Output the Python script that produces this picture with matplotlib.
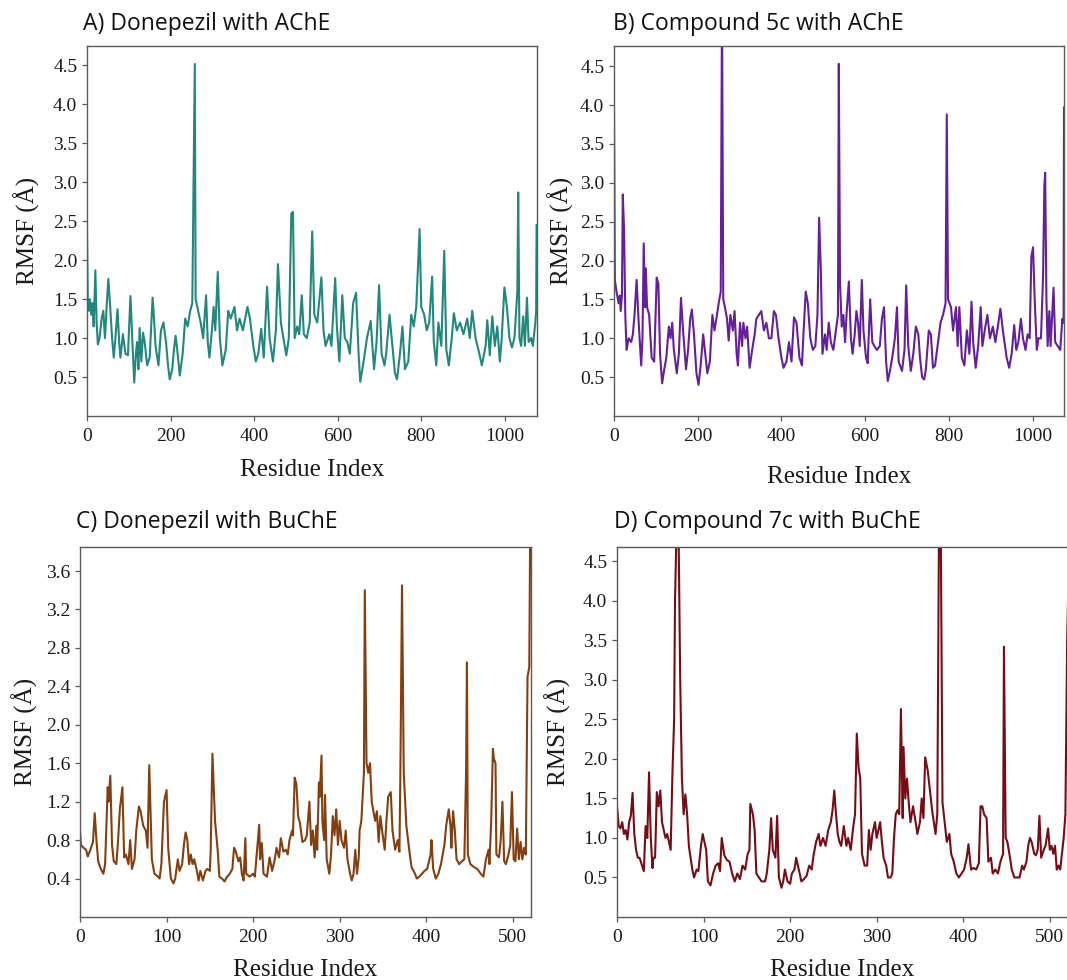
import matplotlib.pyplot as plt

# RMSF traces (residue index, RMSF in Angstrom)
a_res = [0, 2, 4, 7, 10, 13, 16, 20, 23, 26,
         30, 35, 39, 43, 47, 51, 55, 60, 64, 68,
         73, 77, 80, 86, 92, 98, 104, 109, 113, 117,
         120, 123, 126, 130, 134, 138, 144, 150, 157, 161,
         164, 171, 177, 183, 189, 194, 198, 204, 208, 212,
         216, 222, 229, 235, 241, 247, 252, 255, 258, 260,
         266, 272, 278, 285, 289, 293, 299, 303, 307, 313,
         318, 324, 332, 338, 344, 353, 359, 365, 373, 384,
         390, 398, 404, 410, 417, 423, 431, 437, 445, 452,
         457, 464, 470, 477, 483, 489, 493, 497, 503, 508,
         514, 519, 526, 533, 539, 544, 551, 561, 566, 571,
         580, 585, 594, 598, 604, 611, 617, 623, 629, 637,
         644, 650, 654, 662, 670, 679, 687, 693, 699, 705,
         712, 716, 724, 731, 737, 742, 749, 755, 761, 769,
         776, 782, 788, 796, 800, 807, 813, 819, 826, 830,
         836, 841, 848, 855, 860, 866, 873, 878, 885, 893,
         901, 910, 916, 922, 930, 939, 945, 954, 958, 964,
         970, 976, 982, 988, 992, 999, 1005, 1011, 1017, 1023,
         1030, 1032, 1035, 1039, 1044, 1048, 1053, 1057, 1063, 1067,
         1073, 1075, 1076]
a_rmsf = [2.38, 1.45, 1.35, 1.5, 1.3, 1.45, 1.15, 1.87, 1.2, 0.92,
          1.0, 1.25, 1.35, 1.0, 1.4, 1.76, 1.45, 1.0, 0.75, 1.0,
          1.37, 0.95, 0.75, 1.05, 0.8, 0.78, 1.54, 0.9, 0.43, 0.8,
          0.95, 0.6, 1.13, 0.7, 1.07, 0.95, 0.65, 0.75, 1.52, 1.2,
          0.9, 0.65, 1.1, 1.2, 0.95, 0.65, 0.47, 0.6, 0.85, 1.03,
          0.85, 0.52, 0.8, 1.25, 1.15, 1.35, 1.45, 3.0, 4.52, 1.5,
          1.35, 1.2, 1.0, 1.55, 0.95, 0.75, 1.1, 1.4, 1.1, 1.85,
          1.0, 0.65, 0.85, 1.35, 1.25, 1.4, 1.1, 1.25, 1.1, 1.4,
          1.25, 0.9, 0.7, 0.8, 1.12, 0.75, 1.66, 1.0, 0.7, 1.1,
          1.95, 1.2, 1.0, 0.78, 1.0, 2.6, 2.62, 1.0, 1.15, 1.05,
          1.55, 1.05, 1.0, 1.2, 2.37, 1.3, 1.2, 1.78, 1.1, 0.9,
          1.05, 0.9, 1.77, 1.15, 0.7, 1.55, 1.0, 0.95, 0.8, 1.45,
          1.58, 0.8, 0.44, 0.7, 1.0, 1.22, 0.6, 0.95, 1.68, 0.8,
          0.65, 0.8, 1.3, 0.9, 0.55, 0.47, 0.8, 1.15, 0.6, 0.7,
          1.3, 1.15, 1.4, 2.4, 1.4, 1.3, 1.1, 1.2, 1.79, 0.95,
          0.65, 1.2, 0.9, 2.12, 0.85, 0.65, 1.0, 1.32, 1.1, 1.2,
          1.05, 1.25, 1.0, 1.35, 1.0, 0.8, 0.65, 0.9, 1.23, 0.78,
          1.28, 0.9, 1.15, 0.7, 0.95, 1.65, 1.4, 1.0, 0.88, 1.0,
          1.6, 2.87, 1.0, 0.9, 1.28, 0.9, 1.52, 0.95, 1.0, 0.9,
          1.2, 1.35, 2.45]

b_res = [0, 2, 6, 11, 14, 16, 19, 21, 24, 27,
         30, 35, 41, 45, 49, 54, 59, 65, 68, 71,
         74, 76, 79, 84, 90, 96, 102, 106, 110, 115,
         120, 125, 131, 135, 139, 143, 150, 155, 160, 165,
         172, 177, 182, 186, 191, 197, 202, 207, 213, 218,
         223, 229, 235, 240, 246, 250, 255, 258, 261, 265,
         270, 274, 278, 284, 288, 293, 296, 301, 306, 309,
         314, 318, 324, 330, 336, 340, 346, 352, 358, 364,
         370, 376, 382, 387, 393, 400, 405, 412, 418, 424,
         430, 436, 443, 449, 453, 458, 463, 469, 475, 481,
         486, 490, 494, 498, 504, 508, 513, 518, 524, 530,
         535, 537, 540, 544, 548, 552, 556, 561, 566, 570,
         575, 579, 583, 587, 592, 596, 602, 606, 612, 617,
         622, 628, 635, 640, 645, 650, 654, 660, 666, 671,
         676, 680, 688, 694, 698, 703, 709, 715, 721, 727,
         731, 736, 741, 745, 752, 757, 762, 767, 774, 780,
         786, 792, 795, 798, 805, 810, 817, 821, 825, 831,
         837, 843, 849, 854, 858, 864, 870, 876, 880, 887,
         892, 898, 905, 911, 917, 923, 929, 938, 944, 950,
         956, 961, 966, 972, 977, 983, 988, 993, 997, 1001,
         1005, 1010, 1014, 1020, 1025, 1028, 1030, 1033, 1036, 1040,
         1043, 1050, 1054, 1060, 1066, 1071, 1074, 1075]
b_rmsf = [3.95, 1.75, 1.6, 1.45, 1.55, 1.35, 1.55, 2.85, 2.4, 1.3,
          0.85, 1.0, 0.95, 1.05, 1.3, 1.75, 1.2, 0.65, 1.0, 2.22,
          1.4, 1.9, 1.4, 1.3, 0.75, 0.7, 1.78, 1.7, 0.8, 0.42,
          0.6, 0.75, 1.15, 1.0, 1.2, 0.85, 0.55, 0.8, 1.52, 1.1,
          0.6, 0.85, 1.25, 1.37, 1.05, 0.55, 0.4, 0.65, 1.05, 0.8,
          0.55, 0.7, 1.3, 1.1, 1.3, 1.45, 1.6, 5.3, 1.5, 1.4,
          1.25, 0.97, 1.3, 1.1, 1.35, 0.8, 0.65, 1.2, 0.9, 1.2,
          1.0, 1.15, 0.62, 0.85, 1.05, 1.25, 1.3, 1.35, 1.1, 1.2,
          1.0, 1.0, 1.35, 1.3, 1.0, 0.75, 0.62, 0.7, 0.95, 0.7,
          1.27, 1.2, 0.75, 0.65, 1.1, 1.6, 1.45, 1.0, 0.85, 0.9,
          1.3, 2.55, 1.9, 0.8, 1.05, 0.85, 1.2, 0.95, 0.85, 1.1,
          1.3, 4.53, 1.7, 1.15, 1.3, 0.95, 1.35, 1.73, 1.0, 0.8,
          1.05, 1.35, 1.2, 0.9, 1.75, 1.1, 0.75, 0.68, 1.5, 0.95,
          0.9, 0.85, 0.9, 1.25, 1.4, 0.7, 0.45, 0.6, 0.8, 1.0,
          1.4, 0.7, 0.58, 0.85, 1.68, 0.9, 0.58, 0.8, 1.15, 1.05,
          0.75, 0.5, 0.47, 0.6, 1.1, 1.05, 0.62, 0.65, 0.95, 1.2,
          1.3, 1.45, 3.88, 1.5, 1.4, 1.1, 1.4, 0.9, 1.4, 0.75,
          0.65, 1.1, 0.8, 1.47, 0.95, 0.62, 0.9, 1.4, 0.9, 1.15,
          1.3, 1.0, 1.15, 0.95, 1.15, 1.38, 1.1, 0.75, 0.62, 0.8,
          1.17, 0.85, 0.95, 1.25, 1.0, 0.85, 1.05, 1.0, 2.05, 2.17,
          1.5, 0.85, 1.0, 1.0, 1.8, 2.95, 3.13, 1.5, 0.9, 1.35,
          0.9, 1.65, 0.95, 0.9, 0.85, 1.25, 1.2, 3.97]

c_res = [0, 1, 4, 7, 9, 12, 15, 17, 19, 21,
         24, 27, 29, 32, 33, 35, 37, 39, 42, 44,
         46, 49, 51, 53, 56, 58, 60, 63, 65, 68,
         70, 73, 76, 78, 80, 83, 86, 89, 92, 94,
         97, 100, 102, 105, 108, 110, 113, 115, 118, 120,
         122, 124, 126, 128, 130, 132, 135, 137, 139, 142,
         145, 147, 150, 151, 153, 155, 156, 159, 161, 164,
         167, 170, 173, 176, 178, 180, 183, 185, 187, 189,
         191, 192, 196, 200, 202, 205, 207, 208, 210, 212,
         216, 219, 222, 225, 227, 230, 232, 235, 238, 240,
         242, 245, 246, 248, 250, 252, 254, 257, 260, 262,
         265, 267, 269, 271, 273, 274, 276, 277, 279, 280,
         282, 283, 285, 288, 290, 292, 294, 296, 298, 300,
         302, 305, 307, 309, 312, 314, 316, 318, 320, 322,
         323, 325, 328, 329, 331, 333, 335, 337, 341, 343,
         345, 347, 349, 352, 354, 356, 359, 361, 364, 367,
         369, 370, 372, 374, 377, 381, 383, 387, 389, 392,
         395, 398, 401, 405, 406, 408, 411, 414, 417, 421,
         423, 426, 428, 429, 431, 433, 435, 438, 441, 444,
         446, 447, 448, 451, 455, 459, 463, 466, 469, 472,
         473, 475, 477, 478, 480, 481, 484, 486, 488, 490,
         492, 495, 497, 499, 501, 503, 505, 507, 509, 511,
         513, 515, 517, 519, 520]
c_rmsf = [0.9, 0.75, 0.72, 0.7, 0.63, 0.7, 0.78, 1.08, 0.8, 0.58,
          0.5, 0.45, 0.55, 1.35, 1.2, 1.47, 0.75, 0.58, 0.55, 0.8,
          1.12, 1.35, 0.62, 0.65, 0.55, 0.8, 0.5, 0.6, 0.9, 1.15,
          1.1, 0.95, 0.9, 0.72, 1.58, 0.6, 0.45, 0.43, 0.4, 0.55,
          1.2, 1.32, 0.7, 0.4, 0.35, 0.4, 0.6, 0.48, 0.55, 0.75,
          0.88, 0.8, 0.55, 0.65, 0.55, 0.6, 0.48, 0.38, 0.48, 0.38,
          0.48, 0.5, 0.48, 0.7, 1.7, 1.25, 1.0, 0.7, 0.42, 0.4,
          0.37, 0.42, 0.45, 0.5, 0.72, 0.68, 0.58, 0.62, 0.45, 0.38,
          0.82, 0.45, 0.42, 0.45, 0.42, 0.75, 0.96, 0.6, 0.77, 0.45,
          0.42, 0.62, 0.48, 0.6, 0.72, 0.62, 0.82, 0.68, 0.7, 0.65,
          0.8, 0.9, 0.85, 1.45, 1.38, 1.05, 0.98, 0.78, 0.8, 0.85,
          1.2, 0.75, 0.9, 0.62, 0.95, 0.7, 1.4, 1.25, 1.68, 1.0,
          0.8, 1.27, 0.6, 0.45, 0.65, 1.05, 0.85, 1.12, 0.75, 1.0,
          0.8, 0.72, 0.9, 0.6, 0.45, 0.38, 0.45, 0.7, 0.45, 0.62,
          0.9, 1.0, 1.5, 3.4, 1.6, 1.5, 1.6, 1.2, 1.0, 1.1,
          0.78, 1.05, 0.9, 0.7, 1.0, 1.25, 1.3, 0.9, 0.7, 0.8,
          0.68, 1.4, 3.45, 1.5, 0.95, 0.65, 0.52, 0.45, 0.4, 0.42,
          0.45, 0.48, 0.5, 0.65, 0.8, 0.5, 0.4, 0.45, 0.55, 0.75,
          0.95, 1.12, 0.95, 0.72, 1.1, 0.9, 0.6, 0.55, 0.58, 0.6,
          1.5, 2.65, 0.65, 0.55, 0.52, 0.5, 0.45, 0.42, 0.6, 0.7,
          0.55, 1.0, 1.75, 1.65, 1.6, 0.65, 0.62, 0.8, 1.2, 0.58,
          0.55, 0.65, 0.75, 1.3, 0.6, 0.58, 0.92, 0.6, 0.78, 0.6,
          0.72, 0.65, 2.5, 2.6, 3.95]

d_res = [0, 2, 4, 6, 8, 10, 12, 14, 16, 18,
         20, 22, 24, 26, 29, 31, 33, 35, 37, 39,
         41, 42, 44, 46, 48, 50, 52, 54, 56, 58,
         60, 62, 64, 66, 67, 69, 71, 73, 75, 77,
         79, 81, 83, 85, 87, 89, 92, 94, 97, 99,
         101, 103, 105, 108, 111, 114, 117, 119, 121, 124,
         127, 130, 133, 136, 139, 142, 145, 148, 151, 153,
         154, 157, 159, 161, 164, 167, 171, 173, 176, 178,
         180, 183, 185, 187, 190, 192, 194, 197, 200, 202,
         205, 207, 210, 213, 216, 219, 222, 225, 227, 230,
         233, 235, 238, 241, 244, 247, 249, 251, 253, 255,
         257, 259, 262, 265, 267, 270, 273, 275, 277, 279,
         281, 283, 286, 289, 291, 293, 295, 298, 300, 304,
         306, 308, 311, 313, 316, 318, 320, 322, 324, 326,
         328, 330, 331, 333, 335, 337, 339, 342, 345, 347,
         350, 352, 354, 356, 359, 361, 364, 366, 368, 370,
         372, 374, 376, 379, 381, 384, 386, 389, 392, 395,
         398, 401, 404, 406, 409, 412, 415, 418, 420, 422,
         424, 427, 429, 432, 434, 437, 440, 443, 446, 447,
         449, 451, 454, 456, 459, 462, 465, 468, 470, 473,
         475, 477, 479, 482, 484, 486, 488, 490, 493, 495,
         498, 500, 502, 504, 506, 508, 510, 512, 514, 516,
         518, 520, 521]
d_rmsf = [1.4, 1.15, 1.12, 1.2, 1.05, 1.1, 0.98, 1.2, 1.28, 1.57,
          1.05, 0.85, 0.75, 0.75, 0.65, 0.58, 1.15, 1.0, 1.83, 1.0,
          0.62, 0.75, 0.75, 1.58, 1.4, 1.6, 1.2, 1.1, 1.0, 1.05,
          0.95, 0.85, 1.8, 2.5, 4.0, 5.0, 5.0, 3.0, 1.75, 1.3,
          1.55, 1.3, 0.9, 0.75, 0.6, 0.5, 0.6, 0.58, 0.9, 1.05,
          0.95, 0.85, 0.45, 0.4, 0.55, 0.65, 0.68, 0.58, 1.0, 0.78,
          0.72, 0.7, 0.55, 0.45, 0.55, 0.48, 0.65, 0.6, 0.8, 0.85,
          1.43, 1.3, 1.1, 0.55, 0.5, 0.45, 0.45, 0.55, 0.85, 1.25,
          0.85, 0.75, 1.28, 0.5, 0.37, 0.45, 0.6, 0.45, 0.42, 0.55,
          0.6, 0.75, 0.6, 0.45, 0.48, 0.52, 0.65, 0.6, 0.78, 0.95,
          1.05, 0.9, 1.0, 0.9, 1.1, 1.2, 1.35, 1.6, 1.3, 1.05,
          0.95, 0.9, 1.15, 0.9, 1.0, 0.85, 1.15, 1.3, 2.32, 1.9,
          1.75, 0.8, 0.65, 0.65, 1.1, 0.85, 1.05, 1.2, 1.0, 1.2,
          0.95, 0.75, 0.65, 0.5, 0.5, 0.55, 1.0, 1.3, 1.35, 1.3,
          2.63, 1.25, 2.15, 1.5, 1.75, 1.45, 1.2, 1.4, 1.2, 1.05,
          1.2, 1.5, 1.25, 2.02, 1.85, 1.65, 1.35, 1.2, 1.05, 1.3,
          5.0, 5.0, 1.45, 1.15, 0.95, 1.05, 0.8, 0.7, 0.55, 0.5,
          0.55, 0.6, 0.75, 0.92, 0.6, 0.62, 0.6, 0.68, 1.4, 1.4,
          1.3, 1.25, 0.7, 0.75, 0.55, 0.6, 0.55, 0.7, 0.8, 3.42,
          1.0, 0.95, 0.75, 0.6, 0.5, 0.5, 0.5, 0.65, 0.6, 0.7,
          0.9, 1.0, 0.95, 0.8, 0.78, 0.85, 1.28, 0.75, 0.85, 0.9,
          1.12, 0.85, 0.9, 0.8, 0.9, 0.6, 0.65, 0.6, 0.8, 1.0,
          1.3, 3.5, 4.0]

titles = ["A) Donepezil with AChE", "B) Compound 5c with AChE",
          "C) Donepezil with BuChE", "D) Compound 7c with BuChE"]
colors = ["#22877c", "#64209b", "#833f10", "#760d14"]

W, H = 1067, 980
plt.rcParams['font.family'] = ['Liberation Serif', 'DejaVu Serif']
fig = plt.figure(figsize=(W / 100, H / 100), dpi=100)


def px_rect(left, right, top, bottom):
    return [left / W, 1 - bottom / H, (right - left) / W, (bottom - top) / H]


def panel(rect, res, rmsf, color, ymax, yticks, xmax, xticks, ylab_x, xlab_y):
    ax = fig.add_axes(rect)
    ax.plot(res, rmsf, color=color, lw=1.5)
    ax.set_xlim(0, xmax)
    ax.set_ylim(0, ymax)
    ax.set_yticks(yticks)
    ax.set_yticklabels([f"{t:.1f}" for t in yticks])
    ax.set_xticks(xticks)
    ax.set_xticklabels([str(t) for t in xticks])
    for s in ax.spines.values():
        s.set_color("#5a5a5a")
        s.set_linewidth(1.0)
    ax.tick_params(axis="both", colors="#5a5a5a", labelcolor="#1a1a1a",
                   length=3.5, width=0.9, labelsize=14)
    ax.tick_params(axis="x", pad=5)
    ax.set_ylabel("RMSF (Å)", fontsize=18, color="#1a1a1a")
    ax.set_xlabel("Residue Index", fontsize=18, color="#1a1a1a")
    ax.yaxis.set_label_coords(ylab_x, 0.5)
    ax.xaxis.set_label_coords(0.5, xlab_y)
    return ax


ache_y = [0.5, 1.0, 1.5, 2.0, 2.5, 3.0, 3.5, 4.0, 4.5]
buche_c_y = [0.4, 0.8, 1.2, 1.6, 2.0, 2.4, 2.8, 3.2, 3.6]
ache_x = [0, 200, 400, 600, 800, 1000]
buche_x = [0, 100, 200, 300, 400, 500]

panel(px_rect(87, 537, 46, 416), a_res, a_rmsf, colors[0], 4.75, ache_y,
      1077, ache_x, -0.105, -0.116)
panel(px_rect(614, 1064, 46, 416), b_res, b_rmsf, colors[1], 4.76, ache_y,
      1075, ache_x, -0.088, -0.135)
panel(px_rect(80, 531, 547, 917), c_res, c_rmsf, colors[2], 3.85, buche_c_y,
      521, buche_x, -0.093, -0.114)
panel(px_rect(617, 1068, 547, 917), d_res, d_rmsf, colors[3], 4.68, ache_y,
      521, buche_x, -0.102, -0.114)

title_pos = [(83, 30), (613, 30), (76, 528), (614, 528)]
for (tx, ty), t in zip(title_pos, titles):
    fig.text(tx / W, 1 - ty / H, t, fontsize=16.5, family=["Open Sans", "DejaVu Sans"],
             ha="left", va="baseline", color="#111111")

fig.savefig("out.png", dpi=100)
